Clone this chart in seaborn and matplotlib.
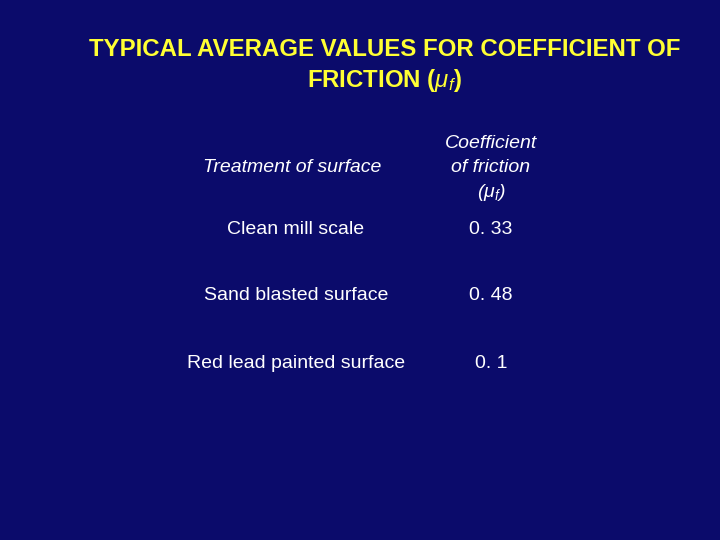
import seaborn as sns
import matplotlib.pyplot as plt

# table contents
title_lines = ["TYPICAL AVERAGE VALUES FOR COEFFICIENT OF", r"FRICTION $\mathbf{(}\boldsymbol{\mu_f}\mathbf{)}$"]
col_headers = ["Treatment of surface", ["Coefficient", "of friction", r"($\mu_f$)"]]
surfaces = ["Clean mill scale", "Sand blasted surface", "Red lead painted surface"]
mu_values = ["0. 33", "0. 48", "0. 1"]

sns.set_theme(style="white")
plt.rcParams['font.family'] = ['Liberation Sans', 'DejaVu Sans']
plt.rcParams['mathtext.fontset'] = 'custom'
plt.rcParams['mathtext.it'] = 'Liberation Sans:italic'
plt.rcParams['mathtext.rm'] = 'Liberation Sans'
plt.rcParams['mathtext.bf'] = 'Liberation Sans:bold'
plt.rcParams['mathtext.bfit'] = 'Liberation Sans:bold:italic'

bg = '#0b0b6b'
fig = plt.figure(figsize=(7.2, 5.4), dpi=100, facecolor=bg)

def fy(y):
    return 1 - y / 540

for y, line in zip([50, 80], title_lines):
    fig.text(385 / 720, fy(y), line, color='#ffff33', fontsize=17.3,
             weight='bold', ha='center', va='center')

fig.text(292 / 720, fy(168), col_headers[0], color='white', fontsize=14,
         style='italic', ha='center', va='center')
for y, line in zip([144, 168, 192], col_headers[1]):
    fig.text(491 / 720, fy(y), line, color='white', fontsize=14,
             style='italic', ha='center', va='center')

for i, (s, m) in enumerate(zip(surfaces, mu_values)):
    y = 229 + i * 67
    fig.text(296 / 720, fy(y), s, color='white', fontsize=14, ha='center', va='center')
    fig.text(491 / 720, fy(y), m, color='white', fontsize=14, ha='center', va='center')

fig.savefig('out.png', facecolor=bg)
